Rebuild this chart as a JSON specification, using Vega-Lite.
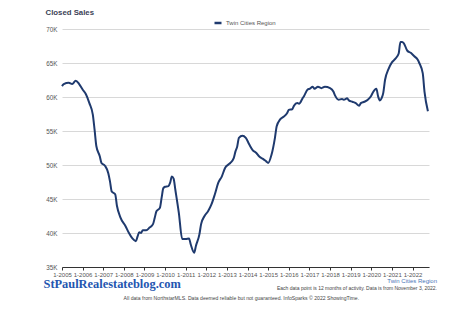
{
  "$schema": "https://vega.github.io/schema/vega-lite/v6.json",
  "width": 367,
  "height": 238,
  "autosize": {"type": "none"},
  "padding": {"left": 62, "top": 29, "right": 45, "bottom": 66},
  "background": "white",
  "config": {"view": {"stroke": null}, "font": "Liberation Sans"},
  "title": {
    "text": "Twin Cities Region",
    "subtitle": "Each data point is 12 months of activity. Data is from November 3, 2022.",
    "orient": "bottom",
    "anchor": "end",
    "frame": "group",
    "dx": 8,
    "offset": -23,
    "font": "Liberation Sans",
    "fontSize": 6,
    "fontWeight": "normal",
    "color": "#4a76b8",
    "subtitleFont": "Liberation Sans",
    "subtitleFontSize": 5,
    "subtitleColor": "#444444",
    "subtitlePadding": 2
  },
  "layer": [
    {
      "data": {
        "values": [
          {"date": "2005-01-01", "sales": 61600},
          {"date": "2005-02-01", "sales": 61900},
          {"date": "2005-05-01", "sales": 62100},
          {"date": "2005-07-01", "sales": 61900},
          {"date": "2005-09-01", "sales": 62400},
          {"date": "2005-11-01", "sales": 61900},
          {"date": "2006-01-01", "sales": 61100},
          {"date": "2006-03-01", "sales": 60400},
          {"date": "2006-05-01", "sales": 59100},
          {"date": "2006-07-01", "sales": 57400},
          {"date": "2006-08-01", "sales": 55200},
          {"date": "2006-09-01", "sales": 52800},
          {"date": "2006-11-01", "sales": 51300},
          {"date": "2006-12-01", "sales": 50300},
          {"date": "2007-02-01", "sales": 49900},
          {"date": "2007-04-01", "sales": 48800},
          {"date": "2007-05-01", "sales": 47600},
          {"date": "2007-06-01", "sales": 46100},
          {"date": "2007-08-01", "sales": 45700},
          {"date": "2007-09-01", "sales": 44000},
          {"date": "2007-11-01", "sales": 42300},
          {"date": "2008-02-01", "sales": 41000},
          {"date": "2008-04-01", "sales": 40000},
          {"date": "2008-06-01", "sales": 39200},
          {"date": "2008-08-01", "sales": 38800},
          {"date": "2008-09-01", "sales": 39500},
          {"date": "2008-10-01", "sales": 40100},
          {"date": "2008-11-01", "sales": 40000},
          {"date": "2008-12-01", "sales": 40400},
          {"date": "2009-02-01", "sales": 40400},
          {"date": "2009-04-01", "sales": 40800},
          {"date": "2009-06-01", "sales": 41300},
          {"date": "2009-07-01", "sales": 42200},
          {"date": "2009-08-01", "sales": 43200},
          {"date": "2009-10-01", "sales": 43700},
          {"date": "2009-11-01", "sales": 45200},
          {"date": "2009-12-01", "sales": 46600},
          {"date": "2010-01-01", "sales": 46800},
          {"date": "2010-03-01", "sales": 46900},
          {"date": "2010-04-01", "sales": 47400},
          {"date": "2010-05-01", "sales": 48300},
          {"date": "2010-06-01", "sales": 48000},
          {"date": "2010-07-01", "sales": 46400},
          {"date": "2010-09-01", "sales": 43000},
          {"date": "2010-11-01", "sales": 39100},
          {"date": "2011-01-01", "sales": 39100},
          {"date": "2011-03-01", "sales": 39200},
          {"date": "2011-04-01", "sales": 38300},
          {"date": "2011-06-01", "sales": 37100},
          {"date": "2011-07-01", "sales": 38100},
          {"date": "2011-09-01", "sales": 39800},
          {"date": "2011-10-01", "sales": 41300},
          {"date": "2011-12-01", "sales": 42500},
          {"date": "2012-02-01", "sales": 43200},
          {"date": "2012-04-01", "sales": 44200},
          {"date": "2012-06-01", "sales": 45700},
          {"date": "2012-08-01", "sales": 47400},
          {"date": "2012-10-01", "sales": 48300},
          {"date": "2012-12-01", "sales": 49600},
          {"date": "2013-02-01", "sales": 50100},
          {"date": "2013-03-01", "sales": 50300},
          {"date": "2013-05-01", "sales": 51000},
          {"date": "2013-06-01", "sales": 52000},
          {"date": "2013-07-01", "sales": 52700},
          {"date": "2013-08-01", "sales": 54000},
          {"date": "2013-10-01", "sales": 54300},
          {"date": "2013-12-01", "sales": 54000},
          {"date": "2014-02-01", "sales": 53000},
          {"date": "2014-04-01", "sales": 52200},
          {"date": "2014-06-01", "sales": 51800},
          {"date": "2014-08-01", "sales": 51200},
          {"date": "2014-10-01", "sales": 50900},
          {"date": "2014-12-01", "sales": 50500},
          {"date": "2015-01-01", "sales": 50300},
          {"date": "2015-03-01", "sales": 51500},
          {"date": "2015-05-01", "sales": 54000},
          {"date": "2015-06-01", "sales": 55700},
          {"date": "2015-08-01", "sales": 56700},
          {"date": "2015-10-01", "sales": 57100},
          {"date": "2015-12-01", "sales": 57600},
          {"date": "2016-01-01", "sales": 58100},
          {"date": "2016-03-01", "sales": 58200},
          {"date": "2016-04-01", "sales": 58700},
          {"date": "2016-06-01", "sales": 59100},
          {"date": "2016-07-01", "sales": 59000},
          {"date": "2016-09-01", "sales": 59800},
          {"date": "2016-10-01", "sales": 60200},
          {"date": "2016-12-01", "sales": 61100},
          {"date": "2017-01-01", "sales": 61200},
          {"date": "2017-03-01", "sales": 61500},
          {"date": "2017-04-01", "sales": 61200},
          {"date": "2017-06-01", "sales": 61500},
          {"date": "2017-08-01", "sales": 61300},
          {"date": "2017-10-01", "sales": 61500},
          {"date": "2018-01-01", "sales": 61300},
          {"date": "2018-03-01", "sales": 60800},
          {"date": "2018-04-01", "sales": 60200},
          {"date": "2018-06-01", "sales": 59600},
          {"date": "2018-08-01", "sales": 59700},
          {"date": "2018-09-01", "sales": 59600},
          {"date": "2018-11-01", "sales": 59800},
          {"date": "2018-12-01", "sales": 59500},
          {"date": "2019-02-01", "sales": 59300},
          {"date": "2019-04-01", "sales": 59100},
          {"date": "2019-06-01", "sales": 58700},
          {"date": "2019-07-01", "sales": 59100},
          {"date": "2019-09-01", "sales": 59300},
          {"date": "2019-11-01", "sales": 59600},
          {"date": "2020-01-01", "sales": 60200},
          {"date": "2020-02-01", "sales": 60700},
          {"date": "2020-04-01", "sales": 61200},
          {"date": "2020-05-01", "sales": 60100},
          {"date": "2020-06-01", "sales": 59500},
          {"date": "2020-07-01", "sales": 59800},
          {"date": "2020-08-01", "sales": 60600},
          {"date": "2020-09-01", "sales": 62500},
          {"date": "2020-11-01", "sales": 64100},
          {"date": "2021-01-01", "sales": 65100},
          {"date": "2021-03-01", "sales": 65600},
          {"date": "2021-05-01", "sales": 66400},
          {"date": "2021-06-01", "sales": 68100},
          {"date": "2021-07-01", "sales": 68100},
          {"date": "2021-08-01", "sales": 67900},
          {"date": "2021-10-01", "sales": 66800},
          {"date": "2021-12-01", "sales": 66500},
          {"date": "2022-02-01", "sales": 66000},
          {"date": "2022-04-01", "sales": 65500},
          {"date": "2022-05-01", "sales": 65000},
          {"date": "2022-07-01", "sales": 63500},
          {"date": "2022-08-01", "sales": 60800},
          {"date": "2022-10-01", "sales": 57900}
        ]
      },
      "mark": {"type": "line", "strokeWidth": 2, "interpolate": "monotone"},
      "encoding": {
        "x": {
          "field": "date",
          "type": "temporal",
          "scale": {"domain": [{"year": 2005, "month": 1, "date": 1}, {"year": 2022, "month": 10, "date": 20}]},
          "axis": {
            "format": "1-%Y",
            "tickCount": {"interval": "year", "step": 1},
            "grid": false,
            "domainColor": "#333333",
            "tickColor": "#333333",
            "tickSize": 3,
            "labelFontSize": 6,
            "labelColor": "#555555",
            "labelPadding": 1,
            "labelOverlap": false,
            "labelFlush": false,
            "title": "StPaulRealestateblog.com",
            "titleFont": "Liberation Serif",
            "titleFontSize": 12.4,
            "titleFontWeight": "bold",
            "titleColor": "#2456b0",
            "titleX": -19,
            "titleY": 20.7,
            "titleAlign": "left",
            "titleBaseline": "alphabetic",
            "titleAnchor": null
          }
        },
        "y": {
          "field": "sales",
          "type": "quantitative",
          "scale": {"domain": [35000, 70000], "nice": false},
          "axis": {
            "values": [35000, 40000, 45000, 50000, 55000, 60000, 65000, 70000],
            "tickCount": 10,
            "labelExpr": "(datum.value / 1000) + 'K'",
            "labelOverlap": false,
            "domain": false,
            "ticks": false,
            "grid": true,
            "gridColor": "#d8d8d8",
            "gridWidth": 1,
            "labelFontSize": 6.3,
            "labelColor": "#555555",
            "labelPadding": 5,
            "title": "Closed Sales",
            "titleAngle": 0,
            "titleX": -17,
            "titleY": -16.7,
            "titleAlign": "left",
            "titleBaseline": "middle",
            "titleFontSize": 7.8,
            "titleFontWeight": "bold",
            "titleColor": "#3b4256",
            "titleAnchor": null
          }
        },
        "color": {
          "datum": "Twin Cities Region",
          "scale": {"range": ["#1f3a6e"]},
          "legend": {
            "orient": "none",
            "legendX": 151,
            "legendY": -11,
            "direction": "horizontal",
            "title": null,
            "symbolType": "stroke",
            "symbolSize": 49,
            "symbolStrokeWidth": 2.5,
            "labelFontSize": 6,
            "labelColor": "#555555",
            "labelOffset": 3,
            "padding": 0
          }
        }
      }
    },
    {
      "data": {"values": [{"note": "All data from NorthstarMLS. Data deemed reliable but not guaranteed. InfoSparks © 2022 ShowingTime."}]},
      "mark": {"type": "text", "fontSize": 5.1, "color": "#444444", "align": "center", "baseline": "middle"},
      "encoding": {
        "text": {"field": "note"},
        "x": {"datum": {"year": 2013, "month": 9, "date": 13}},
        "y": {"datum": 30400}
      }
    }
  ]
}
